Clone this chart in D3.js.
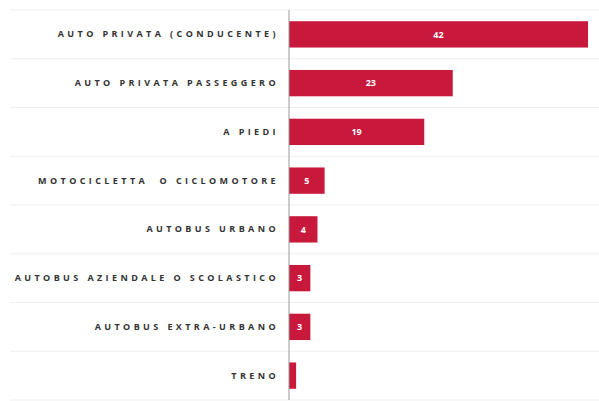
<!DOCTYPE html>
<html>
<head>
<meta charset="utf-8">
<script src="https://cdn.jsdelivr.net/npm/d3@7"></script>
<style>
  body { margin: 0; background: #fff; }
  .label text { font-family: "Open Sans", sans-serif; font-weight: 700; white-space: pre; }
</style>
</head>
<body>
<div id="bar-chart"></div>
<script>
// Data
const categories = [
  "AUTO PRIVATA (CONDUCENTE)",
  "AUTO PRIVATA PASSEGGERO",
  "A PIEDI",
  "MOTOCICLETTA  O CICLOMOTORE",
  "AUTOBUS URBANO",
  "AUTOBUS AZIENDALE O SCOLASTICO",
  "AUTOBUS EXTRA-URBANO",
  "TRENO"
];
const values = [42, 23, 19, 5, 4, 3, 3, 1];
const valueLabels = ["42", "23", "19", "5", "4", "3", "3", ""];

const data = categories.map((c, i) => ({category: c, value: values[i], label: valueLabels[i]}));

const drawBarChart = (data) => {
  const margin = {top: 10, right: 11, bottom: 1, left: 289};
  const width = 599;
  const height = 401;
  const innerWidth = width - margin.left - margin.right;
  const innerHeight = height - margin.top - margin.bottom;

  const svg = d3.select("#bar-chart")
    .append("svg")
      .attr("width", width)
      .attr("height", height);

  const innerChart = svg
    .append("g")
      .attr("transform", `translate(${margin.left}, ${margin.top})`);

  // Scales
  const xScale = d3.scaleLinear()
    .domain([0, 42])
    .range([0, innerWidth]);

  const yScale = d3.scaleBand()
    .domain(data.map(d => d.category))
    .range([0, innerHeight])
    .paddingInner(0.46)
    .paddingOuter(0.23);

  // Grid lines between rows
  const step = yScale.step();
  const gridY = d3.range(data.length + 1).map(i => i * step);
  innerChart
    .selectAll(".grid")
    .data(gridY)
    .join("line")
      .attr("class", "grid")
      .attr("x1", -margin.left + 10)
      .attr("x2", innerWidth + margin.right)
      .attr("y1", d => d)
      .attr("y2", d => d)
      .attr("stroke", "#efefef")
      .attr("stroke-width", 1);

  // Bars
  const barColour = "#c8193d";
  innerChart
    .selectAll(".bar")
    .data(data)
    .join("rect")
      .attr("class", "bar")
      .attr("x", 0)
      .attr("y", d => yScale(d.category))
      .attr("width", d => xScale(d.value))
      .attr("height", yScale.bandwidth())
      .attr("fill", barColour);

  // Value labels
  innerChart
    .selectAll(".value")
    .data(data)
    .join("text")
      .attr("class", "value")
      .attr("x", d => xScale(d.value) / 2)
      .attr("y", d => yScale(d.category) + yScale.bandwidth() / 2)
      .attr("dy", "0.35em")
      .attr("text-anchor", "middle")
      .attr("fill", "#fff")
      .style("font-family", "'Open Sans', sans-serif")
      .style("font-weight", 700)
      .style("font-size", "9px")
      .text(d => d.label);

  // Left axis
  const leftAxis = d3.axisLeft(yScale).tickSize(0).tickPadding(10);
  const axisG = innerChart
    .append("g")
      .attr("class", "label")
      .call(leftAxis);
  axisG.select(".domain")
    .attr("stroke", "#999")
    .attr("d", `M0,0V${innerHeight}`);
  axisG.selectAll("text")
    .attr("fill", "#333")
    .style("font-size", "9px")
    .style("letter-spacing", "3.4px");
};

drawBarChart(data);
</script>
</body>
</html>
